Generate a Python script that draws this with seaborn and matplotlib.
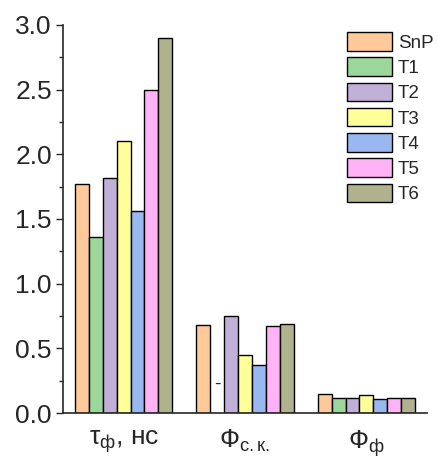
import matplotlib
matplotlib.use("Agg")
import matplotlib.pyplot as plt
import seaborn as sns
import pandas as pd
import numpy as np

categories = ["tau", "fsk", "ff"]
cat_labels = [r"$\mathrm{τ}_{\mathrm{ф}}$, нс", r"$\mathrm{Ф}_{\mathrm{с.к.}}$", r"$\mathrm{Ф}_{\mathrm{ф}}$"]
series = ["SnP", "T1", "T2", "T3", "T4", "T5", "T6"]
SnP = [1.77, 0.68, 0.147]
T1 = [1.36, np.nan, 0.118]
T2 = [1.82, 0.75, 0.118]
T3 = [2.10, 0.45, 0.137]
T4 = [1.56, 0.37, 0.108]
T5 = [2.50, 0.67, 0.118]
T6 = [2.90, 0.69, 0.118]
colors = ["#FFC999", "#9BD79B", "#C0B0D8", "#FFFF99", "#99B8F0", "#FFB3F6", "#B0B28E"]

vals = [SnP, T1, T2, T3, T4, T5, T6]
rows = []
for s, v in zip(series, vals):
    for c, y in zip(categories, v):
        rows.append({"cat": c, "series": s, "value": y})
df = pd.DataFrame(rows)

sns.set_style("ticks")
plt.rcParams['font.family'] = ['Liberation Sans', 'DejaVu Sans']
plt.rcParams['mathtext.fontset'] = 'custom'
plt.rcParams['mathtext.rm'] = 'Liberation Sans'
plt.rcParams['mathtext.it'] = 'Liberation Sans:italic'

fig = plt.figure(figsize=(4.38, 4.61), dpi=100)
ax = fig.add_axes([63/438, 1-413/461, (427-63)/438, (413-25)/461])
sns.barplot(data=df, x="cat", y="value", hue="series", order=categories,
            hue_order=series, palette=colors, width=0.8, edgecolor="black",
            linewidth=1.0, ax=ax, saturation=1)
# missing value marker
ax.text(1 - 0.4 + 0.8/7*1.5, 0.22, "-", ha="center", va="center", fontsize=14)

ax.set_xlim(-0.5, 2.5)
ax.set_ylim(0, 3.0)
ax.set_yticks(np.arange(0, 3.01, 0.5))
ax.set_yticks(np.arange(0.25, 3.0, 0.5), minor=True)
ax.set_yticklabels([f"{v:.1f}" for v in np.arange(0, 3.01, 0.5)])
ax.set_xticks([0, 1, 2])
ax.set_xticklabels(cat_labels)
ax.tick_params(axis="y", which="major", length=5, width=1, labelsize=19, direction="out", pad=3)
ax.tick_params(axis="y", which="minor", length=3, width=1, direction="out")
ax.tick_params(axis="x", length=0, labelsize=19, pad=11)
ax.set_xlabel("")
ax.set_ylabel("")
for sp in ["top", "right"]:
    ax.spines[sp].set_visible(False)
for sp in ["left", "bottom"]:
    ax.spines[sp].set_linewidth(1.2)

leg = ax.legend(loc="upper left", bbox_to_anchor=(347/438, 1-32/461),
                bbox_transform=fig.transFigure, frameon=False,
                fontsize=13.5, handlelength=2.4, handleheight=1.15,
                labelspacing=0.3, handletextpad=0.32, borderaxespad=0, borderpad=0)
fig.savefig("out.png", dpi=100)
